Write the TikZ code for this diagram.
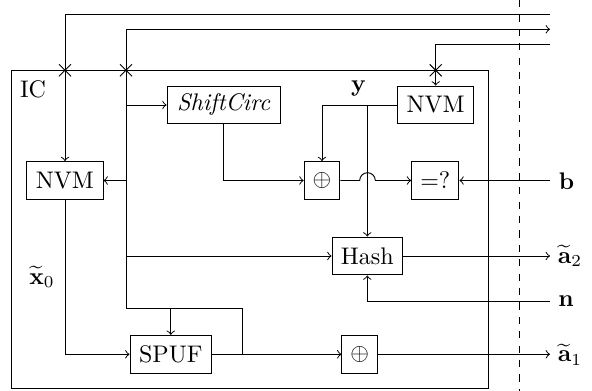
\documentclass[tikz,border=0pt]{standalone}
\usepackage{amsmath}
\tikzset{
  blockbox/.style={draw,rectangle,inner sep=0pt,line width=0.4pt},
  xorbox/.style={blockbox,minimum width=14.9pt,minimum height=15.8pt},
  wire/.style={line width=0.4pt},
  arrowwire/.style={wire,->,>=to},
  plainlabel/.style={inner sep=0pt}
}
\begin{document}
\begin{tikzpicture}[x=0.41667pt,y=-0.41667pt]
\useasboundingbox (0,0) rectangle (592,391);
% IC frame
\node[plainlabel,draw,minimum width=198.9pt,minimum height=132.5pt] (ic) at (250.1,229.2) {};
\node[plainlabel] (iclabel) at (33,89.5) {IC};
% boundary
\coordinate (dt) at (519.7,0);
\coordinate (db) at (519.7,391);
\draw[wire,dashed] (dt) -- (db);
% blocks
\node[blockbox,minimum width=47.2pt,minimum height=15.8pt] (shift) at (223.7,105) {\textit{ShiftCirc}};
\node[blockbox,minimum width=31.7pt,minimum height=15.8pt] (nvma) at (65,180.5) {NVM};
\node[blockbox,minimum width=31.7pt,minimum height=15.8pt] (nvmb) at (435.7,105) {NVM};
\node[xorbox] (xora) at (322,180.5) {$\oplus$};
\node[blockbox,minimum width=19.7pt,minimum height=15.8pt] (eq) at (435.3,180.5) {$=?$};
\node[blockbox,minimum width=29.4pt,minimum height=15.8pt] (hash) at (367.3,256) {Hash};
\node[blockbox,minimum width=34pt,minimum height=15.8pt] (spuf) at (170.8,354.3) {SPUF};
\node[xorbox] (xorb) at (359.8,354.3) {$\oplus$};
% free ends
\coordinate (ea) at (550,14);
\coordinate (eb) at (550,29.3);
\coordinate (ec) at (550,44.3);
\coordinate (ta) at (65,14);
\coordinate (tb) at (126,29.3);
\coordinate (tbot) at (126,308.7);
\coordinate (fb) at (242,354.3);
\coordinate (ty) at (367.3,105);
\coordinate (fy) at (550,180.5);
\coordinate (fh) at (550,256);
\coordinate (fn) at (550,301.3);
\coordinate (fa) at (550,354.3);
% labels
\node[plainlabel] (ylabel) at (358.7,88) {$\mathbf{y}$};
\node[plainlabel] (blabel) at (566.5,181) {$\mathbf{b}$};
\node[plainlabel] (nlabel) at (566,301.5) {$\mathbf{n}$};
\node[plainlabel] (a2label) at (570,256) {$\widetilde{\mathbf{a}}_2$};
\node[plainlabel] (a1label) at (570,354.5) {$\widetilde{\mathbf{a}}_1$};
\node[plainlabel] (x0label) at (42,277) {$\widetilde{\mathbf{x}}_0$};
% external wires
\draw[arrowwire] (ea) -- (ta) -- (nvma.north);
\draw[arrowwire] (tbot) -- (tb) -- (eb);
\draw[arrowwire] (ec) -| (nvmb.north);
% crossings
\foreach \cx/\nm in {65/ca,126/cb,435.7/cc}{
  \coordinate (\nm) at (\cx,70.3);
  \draw[wire] ([xshift=-2.5pt,yshift=-2.5pt]\nm) -- ([xshift=2.5pt,yshift=2.5pt]\nm);
  \draw[wire] ([xshift=-2.5pt,yshift=2.5pt]\nm) -- ([xshift=2.5pt,yshift=-2.5pt]\nm);
}
% inner wires
\draw[arrowwire] (tb |- shift.west) -- (shift.west);
\draw[arrowwire] (tb |- nvma.east) -- (nvma.east);
\draw[arrowwire] (tb |- hash.west) -- (hash.west);
\draw[arrowwire] (shift.south) |- (xora.west);
\draw[arrowwire] (nvmb.west) -| (xora.north);
\draw[arrowwire] (ty) -- (hash.north);
\draw[wire] (xora.east) -- (359.7,180.5) arc[start angle=180,end angle=360,radius=7.8];
\draw[arrowwire] (375.3,180.5) -- (eq.west);
\draw[arrowwire] (fy) -- (eq.east);
\draw[arrowwire] (hash.east) -- (fh);
\draw[arrowwire] (fn) -| (hash.south);
\draw[arrowwire] (nvma.south) |- (spuf.west);
\draw[arrowwire] (spuf.east) -- (xorb.west);
\draw[arrowwire] (xorb.east) -- (fa);
\draw[wire] (tbot) -| (fb);
\draw[arrowwire] (spuf.north |- tbot) -- (spuf.north);
\end{tikzpicture}
\end{document}
